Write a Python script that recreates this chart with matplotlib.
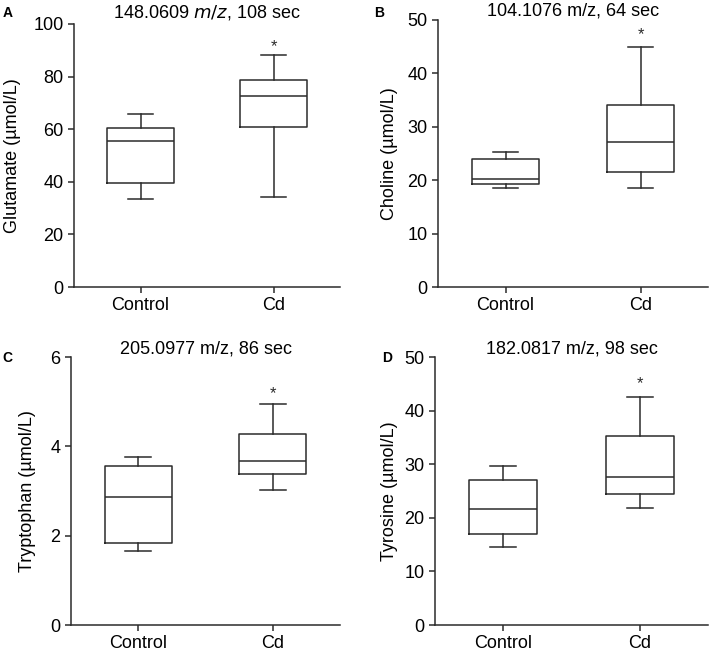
import matplotlib.pyplot as plt

plt.rcParams['font.family'] = ['Liberation Sans', 'DejaVu Sans']

groups = ['Control', 'Cd']

# per panel: (lower whisker, q1, median, q3, upper whisker) for Control, Cd
glutamate = [(33.4, 39.5, 55.4, 60.4, 65.7), (34.1, 60.9, 72.8, 78.7, 88.2)]
choline = [(18.5, 19.3, 20.2, 24.0, 25.3), (18.6, 21.6, 27.1, 34.0, 44.9)]
tryptophan = [(1.66, 1.83, 2.87, 3.57, 3.77), (3.03, 3.39, 3.68, 4.27, 4.95)]
tyrosine = [(14.5, 17.0, 21.7, 27.1, 29.7), (21.8, 24.4, 27.6, 35.2, 42.5)]

panels = [
    dict(letter='A', data=glutamate, ylabel='Glutamate (µmol/L)',
         title='148.0609 $\\it{m/z}$, 108 sec', ymax=100, step=20,
         star=91.5, rect=(74, 24, 340, 287), lab_x=-0.2, tpad=5,
         letter_xy=(3, 17)),
    dict(letter='B', data=choline, ylabel='Choline (µmol/L)',
         title='104.1076 m/z, 64 sec', ymax=50, step=10,
         star=47.2, rect=(438, 20, 708, 287), lab_x=-0.148, tpad=1.5,
         letter_xy=(374, 17)),
    dict(letter='C', data=tryptophan, ylabel='Tryptophan (µmol/L)',
         title='205.0977 m/z, 86 sec', ymax=6, step=2,
         star=5.17, rect=(71, 357, 340, 625), lab_x=-0.13, tpad=1.5,
         letter_xy=(2, 362)),
    dict(letter='D', data=tyrosine, ylabel='Tyrosine (µmol/L)',
         title='182.0817 m/z, 98 sec', ymax=50, step=10,
         star=45.0, rect=(435, 357, 708, 625), lab_x=-0.136, tpad=1.5,
         letter_xy=(382, 362)),
]

W, H = 709, 656
fig = plt.figure(figsize=(W / 100, H / 100), dpi=100)
line_col = '#2b2b2b'

for p in panels:
    x0, y0, x1, y1 = p['rect']
    ax = fig.add_axes([x0 / W, 1 - y1 / H, (x1 - x0) / W, (y1 - y0) / H])
    stats = []
    for name, (lo, q1, med, q3, hi) in zip(groups, p['data']):
        stats.append(dict(label=name, whislo=lo, q1=q1, med=med, q3=q3,
                          whishi=hi, fliers=[]))
    style = dict(color=line_col, linewidth=1.1)
    ax.bxp(stats, positions=[0, 1], widths=0.5, showfliers=False,
           boxprops=style, medianprops=style, whiskerprops=style,
           capprops=style, capwidths=0.19)
    ax.text(1, p['star'], '*', ha='center', va='center', fontsize=12,
            color=line_col)
    ax.set_xlim(-0.5, 1.5)
    ax.set_ylim(0, p['ymax'])
    ax.set_yticks(range(0, p['ymax'] + 1, p['step']))
    ax.set_xticks([0, 1])
    ax.set_xticklabels(groups)
    for s in ['top', 'right']:
        ax.spines[s].set_visible(False)
    for s in ['left', 'bottom']:
        ax.spines[s].set_color(line_col)
        ax.spines[s].set_linewidth(1.1)
    ax.tick_params(direction='out', length=4, width=1.1, color=line_col,
                   labelsize=13, pad=3.5)
    ax.set_ylabel(p['ylabel'], fontsize=13)
    ax.yaxis.set_label_coords(p['lab_x'], 0.5)
    ax.set_title(p['title'], fontsize=13, pad=p['tpad'])
    fig.text(p['letter_xy'][0] / W, 1 - p['letter_xy'][1] / H, p['letter'],
             fontsize=10, fontweight='bold', ha='left', va='baseline')

fig.savefig('out.png', dpi=100)
